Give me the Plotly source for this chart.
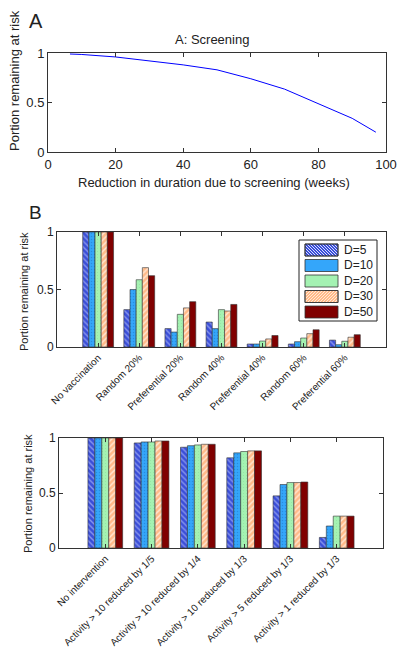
import plotly.graph_objects as go

W, H = 400, 661

# ---------------- data ----------------
weeks = [6.5, 10, 20, 30, 40, 50, 60, 70, 80, 90, 97]
risk_screen = [0.99, 0.985, 0.96, 0.922, 0.88, 0.83, 0.74, 0.635, 0.49, 0.34, 0.2]

cats_b = ["No vaccination", "Random 20%", "Preferential 20%", "Random 40%",
          "Preferential 40%", "Random 60%", "Preferential 60%"]
b_d5 = [1.0, 0.325, 0.16, 0.217, 0.026, 0.026, 0.06]
b_d10 = [1.0, 0.50, 0.13, 0.16, 0.026, 0.046, 0.02]
b_d20 = [1.0, 0.585, 0.284, 0.325, 0.052, 0.078, 0.05]
b_d30 = [1.0, 0.69, 0.34, 0.313, 0.07, 0.116, 0.085]
b_d50 = [1.0, 0.62, 0.394, 0.37, 0.10, 0.15, 0.107]

cats_c = ["No intervention", "Activity > 10 reduced by 1/5", "Activity > 10 reduced by 1/4",
          "Activity > 10 reduced by 1/3", "Activity > 5 reduced by 1/3", "Activity > 1 reduced by 1/3"]
c_d5 = [1.0, 0.955, 0.916, 0.82, 0.474, 0.096]
c_d10 = [1.0, 0.964, 0.93, 0.865, 0.577, 0.20]
c_d20 = [1.0, 0.964, 0.937, 0.877, 0.595, 0.29]
c_d30 = [1.0, 0.973, 0.943, 0.883, 0.595, 0.29]
c_d50 = [1.0, 0.973, 0.943, 0.883, 0.60, 0.29]

series_names = ["D=5", "D=10", "D=20", "D=30", "D=50"]
b_values = [b_d5, b_d10, b_d20, b_d30, b_d50]
c_values = [c_d5, c_d10, c_d20, c_d30, c_d50]

# ---------------- styles ----------------
styles = [
    dict(color="#3a4ed8", pattern=dict(shape="\\", fgcolor="#d8deff", size=4, solidity=0.35),
         hatch="\\", hatch_color="#d8deff"),
    dict(color="#34a6fa", pattern=dict(shape=".", fgcolor="#1d6fc4", size=3, solidity=0.2),
         hatch=None, hatch_color=None),
    dict(color="#a4f2b2", pattern=dict(shape=".", fgcolor="#7fd090", size=3, solidity=0.1),
         hatch=None, hatch_color=None),
    dict(color="#ffe8d6", pattern=dict(shape="/", fgcolor="#ff8c3c", size=4, solidity=0.65),
         hatch="/", hatch_color="#ff8c3c"),
    dict(color="#800000", pattern=dict(shape=""), hatch=None, hatch_color=None),
]

FONT = "Liberation Sans, Arial, sans-serif"
TXT = "#222222"

def px_x(p):
    return p / W

def px_y(p):
    return 1 - p / H

fig = go.Figure()

# Panel A line
fig.add_trace(go.Scatter(x=weeks, y=risk_screen, mode="lines",
                         line=dict(color="#0000ff", width=1),
                         xaxis="x", yaxis="y", showlegend=False))

# Panel B bars
for name, vals, st in zip(series_names, b_values, styles):
    fig.add_trace(go.Bar(x=cats_b, y=vals, name=name, xaxis="x2", yaxis="y2",
                         marker=dict(color=st["color"], pattern=st["pattern"],
                                     line=dict(color="#333333", width=0.6)),
                         showlegend=False))

# Panel C bars
for name, vals, st in zip(series_names, c_values, styles):
    fig.add_trace(go.Bar(x=cats_c, y=vals, name=name, xaxis="x3", yaxis="y3",
                         marker=dict(color=st["color"], pattern=st["pattern"],
                                     line=dict(color="#333333", width=0.6)),
                         showlegend=False))

axis_common = dict(showline=True, linecolor="#333333", linewidth=1, mirror="ticks",
                   ticks="inside", ticklen=4, tickcolor="#333333", showgrid=False,
                   zeroline=False, automargin=False,
                   tickfont=dict(family=FONT, size=12, color=TXT))
cat_font = dict(family=FONT, size=10, color=TXT)

fig.update_layout(
    width=W, height=H,
    margin=dict(l=0, r=0, t=0, b=0, autoexpand=False),
    paper_bgcolor="white", plot_bgcolor="white",
    font=dict(family=FONT, color=TXT),
    barmode="group", bargap=0.25, bargroupgap=0,
    xaxis=dict(domain=[px_x(48), px_x(386)], range=[0, 100], tickvals=[0, 20, 40, 60, 80, 100],
               anchor="y", **{**axis_common, "tickfont": dict(family=FONT, size=13, color=TXT)}),
    yaxis=dict(domain=[px_y(152), px_y(53)], range=[0, 1], tickvals=[0, 0.5, 1],
               anchor="x", **{**axis_common, "tickfont": dict(family=FONT, size=13, color=TXT)}),
    xaxis2=dict(domain=[px_x(57), px_x(386)], range=[-1, 7], anchor="y2",
                tickangle=-45, **{**axis_common, "tickfont": cat_font}),
    yaxis2=dict(domain=[px_y(347), px_y(232)], range=[0, 1], tickvals=[0, 0.5, 1],
                anchor="x2", **axis_common),
    xaxis3=dict(domain=[px_x(59), px_x(383)], range=[-1, 6], anchor="y3",
                tickangle=-45, **{**axis_common, "tickfont": cat_font}),
    yaxis3=dict(domain=[px_y(548), px_y(438)], range=[0, 1], tickvals=[0, 0.5, 1],
                anchor="x3", **axis_common),
    showlegend=False,
)

# ---------------- legend (drawn by hand, MATLAB-style wide swatches) ----------------
shapes = []

def rect(x0, y0, x1, y1, fill, line_color="#222222", lw=1):
    shapes.append(dict(type="rect", xref="paper", yref="paper",
                       x0=px_x(x0), x1=px_x(x1), y0=px_y(y1), y1=px_y(y0),
                       fillcolor=fill, line=dict(color=line_color, width=lw), layer="above"))

def seg(xa, ya, xb, yb, color):
    shapes.append(dict(type="line", xref="paper", yref="paper",
                       x0=px_x(xa), y0=px_y(ya), x1=px_x(xb), y1=px_y(yb),
                       line=dict(color=color, width=1), layer="above"))

def hatch(x0, y0, x1, y1, kind, color, step=3.0):
    if kind == "\\":
        k = (y0 - x1)
        while k <= y1 - x0:
            xa = max(x0, y0 - k); xb = min(x1, y1 - k)
            if xb > xa:
                seg(xa, xa + k, xb, xb + k, color)
            k += step
    elif kind == "/":
        k = x0 + y0
        while k <= x1 + y1:
            xa = max(x0, k - y1); xb = min(x1, k - y0)
            if xb > xa:
                seg(xa, k - xa, xb, k - xb, color)
            k += step

rect(299, 240, 377, 321, "white")
legend_y = [250, 265.5, 281, 296.5, 312]
legend_annots = []
for name, st, yc in zip(series_names, styles, legend_y):
    sx0, sx1, sy0, sy1 = 305, 338, yc - 6, yc + 6
    rect(sx0, sy0, sx1, sy1, st["color"], line_color="#333333", lw=0.8)
    if st["hatch"]:
        hatch(sx0 + 0.5, sy0 + 0.5, sx1 - 0.5, sy1 - 0.5, st["hatch"], st["hatch_color"])
        rect(sx0, sy0, sx1, sy1, "rgba(0,0,0,0)", line_color="#333333", lw=0.8)
    legend_annots.append(dict(text=name, x=px_x(342), y=px_y(yc), xanchor="left",
                              yanchor="middle", font=dict(size=12)))

annotations = [
    dict(text="A", x=px_x(27), y=px_y(21), xanchor="left", yanchor="middle",
         font=dict(size=20)),
    dict(text="B", x=px_x(27), y=px_y(212), xanchor="left", yanchor="middle",
         font=dict(size=19)),
    dict(text="A: Screening", x=px_x(212), y=px_y(39), xanchor="center", yanchor="middle",
         font=dict(size=13)),
    dict(text="Reduction in duration due to screening (weeks)", x=px_x(214), y=px_y(182),
         xanchor="center", yanchor="middle", font=dict(size=13)),
    dict(text="Portion remaining at risk", x=px_x(15), y=px_y(81), textangle=-90,
         xanchor="center", yanchor="middle", font=dict(size=13)),
    dict(text="Portion remaining at risk", x=px_x(24), y=px_y(292), textangle=-90,
         xanchor="center", yanchor="middle", font=dict(size=11)),
    dict(text="Portion remaining at risk", x=px_x(28), y=px_y(494), textangle=-90,
         xanchor="center", yanchor="middle", font=dict(size=11)),
] + legend_annots
for a in annotations:
    a.update(xref="paper", yref="paper", showarrow=False)
    a["font"].update(family=FONT, color=TXT)
fig.update_layout(annotations=annotations, shapes=shapes)

fig.write_html(
    "out.html",
    config={"displayModeBar": False},
    post_script="document.body.style.margin='0';document.body.style.overflow='hidden';",
)
